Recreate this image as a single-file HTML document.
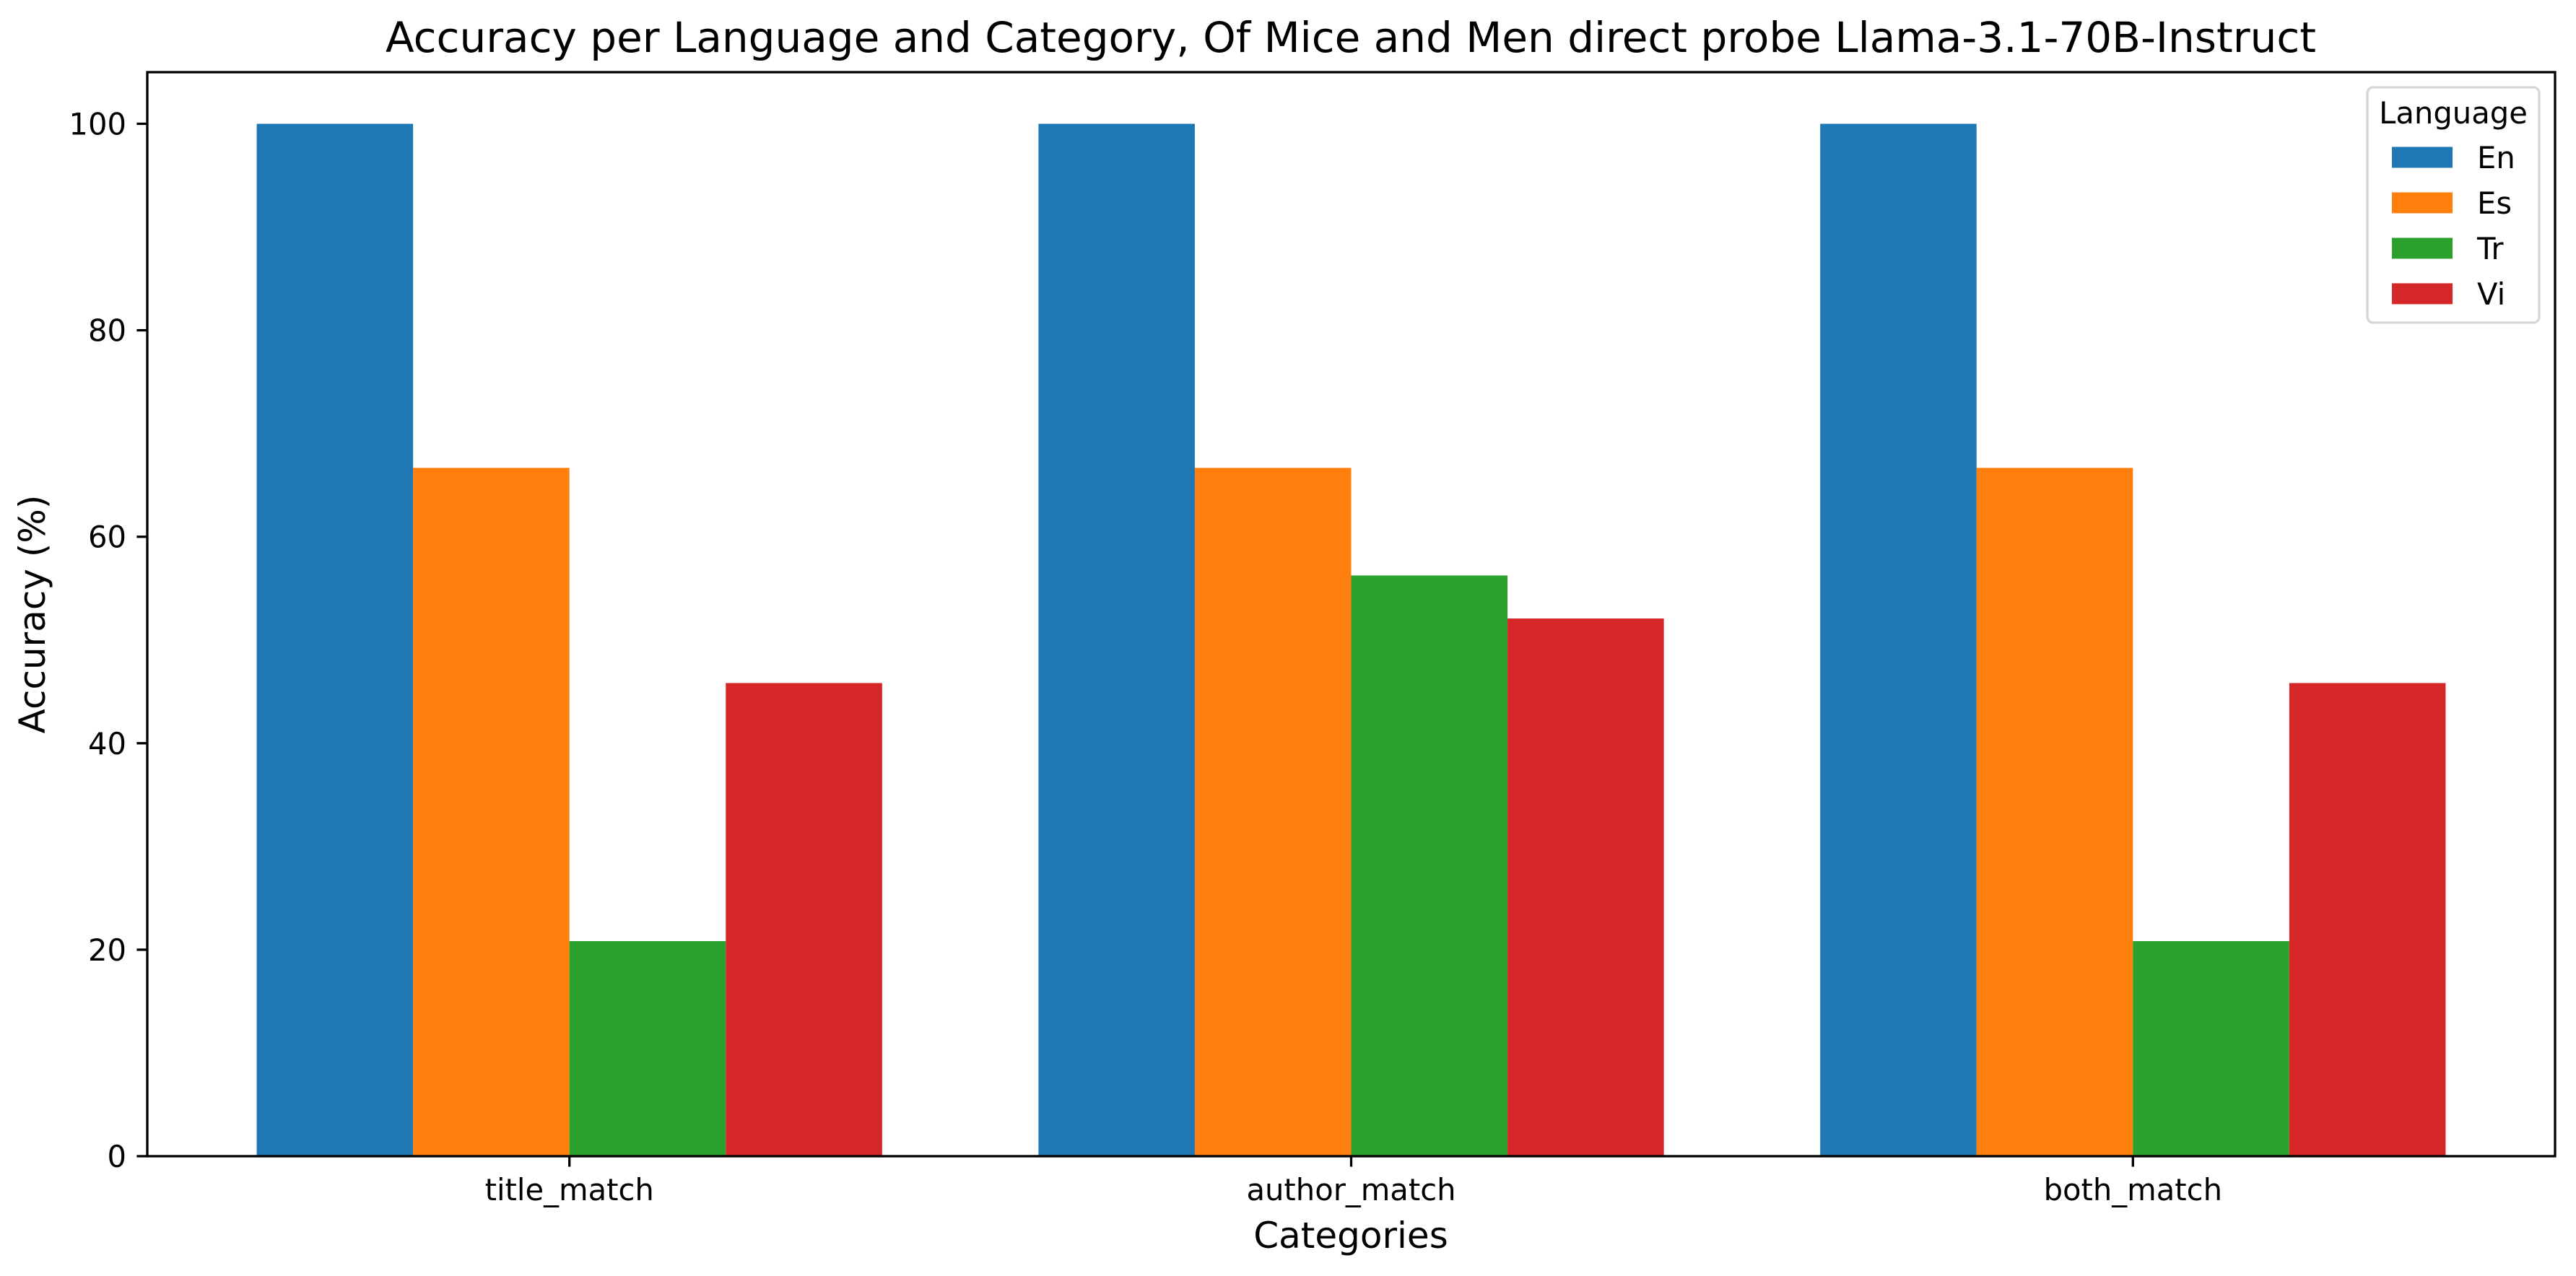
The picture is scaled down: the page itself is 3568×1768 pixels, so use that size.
<!DOCTYPE html>
<html><head><meta charset="utf-8"><style>
html,body{margin:0;padding:0;background:#fff;}
svg{display:block;font-family:"DejaVu Sans","Liberation Sans",sans-serif;}
</style></head><body>
<svg id="chart" width="3568" height="1768" viewBox="0 0 3568 1768" xmlns="http://www.w3.org/2000/svg">
<rect x="0" y="0" width="3568" height="1768" fill="#fff"/>
<text x="1871" y="72" font-size="58" text-anchor="middle">Accuracy per Language and Category, Of Mice and Men direct probe Llama-3.1-70B-Instruct</text>
<g id="bars"></g>
<g id="axes"></g>
<text transform="translate(62,851) rotate(-90)" font-size="50" text-anchor="middle">Accuracy (%)</text>
<text x="1871" y="1729" font-size="50" text-anchor="middle">Categories</text>
<g id="legend"></g>
</svg>
<script>
const categories = ["title_match", "author_match", "both_match"];
const languages = ["En", "Es", "Tr", "Vi"];
const colors = ["#1f77b4", "#ff7f0e", "#2ca02c", "#d62728"];
const valuesEn = [100, 100, 100];
const valuesEs = [66.67, 66.67, 66.67];
const valuesTr = [20.83, 56.25, 20.83];
const valuesVi = [45.83, 52.08, 45.83];
const yTicks = [0, 20, 40, 60, 80, 100];

const series = [valuesEn, valuesEs, valuesTr, valuesVi];
const NS = "http://www.w3.org/2000/svg";
const L = 204, R = 3539, T = 100, B = 1602;
const xMin = -0.54, xMax = 2.54, yMin = 0, yMax = 105;
function xs(v){ return L + (v - xMin) / (xMax - xMin) * (R - L); }
function ys(v){ return B - (v - yMin) / (yMax - yMin) * (B - T); }
function mk(tag, attrs, parent){ const e = document.createElementNS(NS, tag); for (const k in attrs) e.setAttribute(k, attrs[k]); parent.appendChild(e); return e; }

const barsG = document.getElementById("bars");
const bw = 0.2;
series.forEach((vals, si) => {
  vals.forEach((v, ci) => {
    const x0 = xs(ci - 0.4 + si * bw), x1 = xs(ci - 0.4 + (si + 1) * bw);
    const r = mk("rect", {x: x0, y: ys(v), width: x1 - x0, height: ys(0) - ys(v), fill: colors[si]}, barsG);
    
    
  });
});

const ax = document.getElementById("axes");
const frame = mk("rect", {x: L, y: T, width: R - L, height: B - T, fill: "none", stroke: "#000", "stroke-width": 3.3}, ax);


yTicks.forEach(t => {
  const y = ys(t);
  const tk = mk("line", {x1: L - 14.6, x2: L, y1: y, y2: y, stroke: "#000", "stroke-width": 3.3}, ax);
  
  
  const tx = mk("text", {x: L - 29, y: y + 15, "font-size": 41.7, "text-anchor": "end"}, ax);
  tx.textContent = t;
  
  
});
categories.forEach((c, i) => {
  const x = xs(i);
  const tk = mk("line", {x1: x, x2: x, y1: B, y2: B + 14.6, stroke: "#000", "stroke-width": 3.3}, ax);
  
  
  const tx = mk("text", {x: x, y: B + 61, "font-size": 41.7, "text-anchor": "middle"}, ax);
  tx.textContent = c;
  
  
});

const lg = document.getElementById("legend");
const box = mk("rect", {x: 3279, y: 121, width: 238, height: 326, rx: 8, fill: "#fff", "fill-opacity": 0.8, stroke: "#d6d6d6", "stroke-width": 3.3}, lg);


const lt = mk("text", {x: 3398, y: 171, "font-size": 41.7, "text-anchor": "middle"}, lg);
lt.textContent = "Language";


languages.forEach((l, i) => {
  const cy = 218 + i * 63;
  const sw = mk("rect", {x: 3313, y: cy - 14.5, width: 84, height: 29, fill: colors[i]}, lg);
  
  
  const tx = mk("text", {x: 3431, y: cy + 15, "font-size": 41.7}, lg);
  tx.textContent = l;
  
  
});
</script>
</body></html>
